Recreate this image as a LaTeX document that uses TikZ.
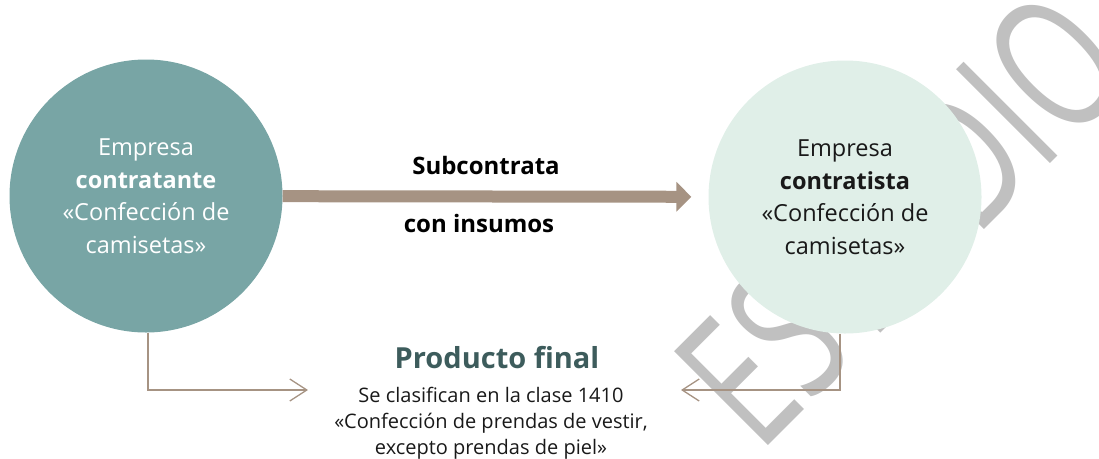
\documentclass[tikz,border=0pt]{standalone}
\usepackage{fontspec}
\setmainfont{Open Sans}
\usepackage{graphicx}
\usepackage{xcolor}
\usepackage{tikz}
\usetikzlibrary{arrows.meta}
\definecolor{tealc}{HTML}{78A5A5}
\definecolor{mintc}{HTML}{E0EFE8}
\definecolor{taupe}{HTML}{A69383}
\definecolor{darkteal}{HTML}{3D5C5C}
\definecolor{wmgray}{HTML}{C0C0C0}

\begin{document}
\begin{tikzpicture}[x=1pt,y=-1pt,
  circ/.style={circle,minimum size=273pt,inner sep=0pt,align=center,font=\fontsize{23.5}{32.5}\selectfont},
  lbl/.style={anchor=base,inner sep=0pt,font=\fontsize{24}{30}\selectfont\bfseries},
  link/.style={taupe,line width=1.3pt,-{Straight Barb[length=17pt,width=22pt]}}]
\useasboundingbox (0,0) rectangle (1099,458);
\node[wmgray,rotate=45,anchor=base west,inner sep=0pt,font=\fontsize{186}{186}\selectfont] (marca) at (759,455) {\scalebox{.69}[1]{ESTUDIO}};
\node[circ,fill=tealc,text=white] (contratante) at (146,196) {Empresa\\\textbf{contratante}\\«Confección de\\camisetas»};
\node[circ,fill=mintc,text=black!90] (contratista) at (845,197) {Empresa\\\textbf{contratista}\\«Confección de\\camisetas»};
\draw [taupe,line width=12pt,-{Triangle[length=15pt,width=29pt]},shorten >=17pt] (contratante) -- (contratista);
\node[lbl] (sub) at (486,174) {Subcontrata};
\node[lbl] (ins) at (479,232) {con insumos};
\node[anchor=base,inner sep=0pt,darkteal,font=\fontsize{29}{34}\selectfont\bfseries] (producto) at (497,368) {Producto final};
\node[anchor=north,inner sep=0pt,align=center,font=\fontsize{20}{26}\selectfont,text=black!90] (clase) at (491,387) {Se clasifican en la clase 1410\\«Confección de prendas de vestir,\\excepto prendas de piel»};
\coordinate (inL) at (308,390);
\coordinate (inR) at (681,390);
\draw [link] ([xshift=2pt]contratante.south) |- (inL);
\draw [link] ([xshift=-5pt]contratista.south) |- (inR);
\end{tikzpicture}
\end{document}
